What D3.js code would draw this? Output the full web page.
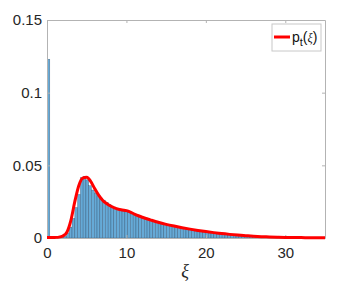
<!DOCTYPE html>
<html>
<head>
<meta charset="utf-8">
<script src="https://cdn.jsdelivr.net/npm/d3@7"></script>
<style>
  html, body { margin: 0; padding: 0; background: #fff; }
  svg { display: block; }
  .tick text { font-family: "Liberation Sans", Arial, sans-serif; font-size: 15px; fill: #262626; }
</style>
</head>
<body>
<div id="chart"></div>
<script>
// histogram: 100 bins of width 0.35 over [0, 35]
var BIN_WIDTH = 0.35;
var binValues = [
  0.123, 0, 0, 0, 0.0002, 0.0005, 0.0012, 0.0035, 0.0075, 0.0135,
  0.021, 0.030, 0.0415, 0.0425, 0.040, 0.036, 0.033, 0.031, 0.029, 0.0275,
  0.026, 0.0245, 0.023, 0.022, 0.0205, 0.0195, 0.019, 0.0185, 0.018, 0.0178,
  0.0172, 0.0165, 0.0158, 0.015, 0.0143, 0.0137, 0.013, 0.0124, 0.0118, 0.0112,
  0.0107, 0.0101, 0.0096, 0.0091, 0.0086, 0.0082, 0.0077, 0.0072, 0.0068, 0.0064,
  0.006, 0.0056, 0.0052, 0.0049, 0.0046, 0.0043, 0.004, 0.0037, 0.0034, 0.0032,
  0.003, 0.0028, 0.0026, 0.0024, 0.0022, 0.002, 0.0018, 0.0016, 0.0015, 0.0014,
  0.0012, 0.0011, 0.001, 0.0009, 0.0008, 0.0007, 0.0006, 0.0006, 0.0005, 0.0004,
  0.0004, 0.0003, 0.0003, 0.0003, 0.0002, 0.0002, 0.0002, 0.0002, 0.0001, 0.0001,
  0.0001, 0.0001, 0.0001, 0.0001, 0.0001, 0, 0, 0, 0, 0
];

// fitted density p_t(xi)
var curveX = [0, 0.5, 1, 1.5, 2, 2.5, 3, 3.5, 4, 4.5, 5, 5.5, 6, 6.5, 7, 7.5, 8, 8.5, 9, 9.5,
  10, 10.5, 11, 11.5, 12, 13, 14, 15, 16, 17, 18, 19, 20, 21, 22, 23, 24, 25, 26, 27,
  28, 29, 30, 31, 32, 33, 34, 35];
var curveY = [0.0003, 0.0003, 0.0004, 0.0006, 0.0014, 0.004, 0.012, 0.025, 0.036, 0.0412,
  0.0418, 0.039, 0.034, 0.0295, 0.026, 0.0237, 0.022, 0.0207, 0.0198, 0.0193,
  0.0188, 0.0178, 0.0165, 0.0153, 0.0143, 0.0125, 0.0108, 0.0094, 0.0082, 0.0071,
  0.0061, 0.0052, 0.0044, 0.0037, 0.0031, 0.0025, 0.002, 0.0016, 0.0012, 0.0009,
  0.0007, 0.0005, 0.0004, 0.0003, 0.0003, 0.0002, 0.0002, 0.0002];

var xTicks = [0, 10, 20, 30];
var yTicks = [0, 0.05, 0.1, 0.15];
var yTickLabels = ["0", "0.05", "0.1", "0.15"];

var W = 359, H = 283;
var MARGIN = {top: 20, right: 34, bottom: 45, left: 47};
var WIDTH = W - MARGIN.left - MARGIN.right,
    HEIGHT = H - MARGIN.top - MARGIN.bottom;
var AXIS_COLOR = "#b3b3b3";

var svg = d3.select("#chart").append("svg")
  .attr("width", W).attr("height", H);

var g = svg.append("g")
  .attr("transform", "translate(" + MARGIN.left + "," + MARGIN.top + ")");

var x = d3.scaleLinear().domain([0, 35]).range([0, WIDTH]);
var y = d3.scaleLinear().domain([0, 0.15]).range([HEIGHT, 0]);

var clip = svg.append("clipPath").attr("id", "plotClip")
  .append("rect").attr("width", WIDTH).attr("height", HEIGHT);

// bars
g.append("g").attr("clip-path", "url(#plotClip)")
  .selectAll("rect")
  .data(binValues)
  .enter().append("rect")
    .attr("x", function(d, i) { return x(i * BIN_WIDTH); })
    .attr("width", function(d, i) { return x((i + 1) * BIN_WIDTH) - x(i * BIN_WIDTH); })
    .attr("y", function(d) { return y(d); })
    .attr("height", function(d) { return HEIGHT - y(d); })
    .attr("fill", "#66aad7")
    .attr("stroke", "#1a3550")
    .attr("stroke-opacity", 0.55)
    .attr("stroke-width", 0.5);

// axes (matlab style box with inward ticks)
var xAxis = d3.axisBottom(x).tickValues(xTicks).tickSizeInner(-3).tickSizeOuter(0).tickPadding(9);
var yAxis = d3.axisLeft(y).tickValues(yTicks).tickSizeInner(-3).tickSizeOuter(0).tickPadding(5)
  .tickFormat(function(d, i) { return yTickLabels[i]; });
var xTop = d3.axisTop(x).tickValues(xTicks).tickSizeInner(-3).tickSizeOuter(0).tickFormat("");
var yRight = d3.axisRight(y).tickValues(yTicks).tickSizeInner(-3).tickSizeOuter(0).tickFormat("");

g.append("g").attr("class", "x axis").attr("transform", "translate(0," + HEIGHT + ")").call(xAxis);
g.append("g").attr("class", "y axis").call(yAxis);
g.append("g").attr("class", "x2 axis").call(xTop);
g.append("g").attr("class", "y2 axis").attr("transform", "translate(" + WIDTH + ",0)").call(yRight);

g.selectAll(".axis path, .axis line").attr("stroke", AXIS_COLOR);

// density line
var line = d3.line()
  .x(function(d, i) { return x(curveX[i]); })
  .y(function(d) { return y(d); })
  .curve(d3.curveMonotoneX);

g.append("path")
  .datum(curveY)
  .attr("d", line)
  .attr("fill", "none")
  .attr("stroke", "#ff0000")
  .attr("stroke-width", 3)
  .attr("stroke-linejoin", "round");

// x label
g.append("text")
  .attr("x", WIDTH / 2 - 1)
  .attr("y", HEIGHT + 39)
  .attr("text-anchor", "middle")
  .attr("font-family", "Liberation Serif, serif")
  .attr("font-style", "italic")
  .attr("font-size", 18)
  .attr("fill", "#262626")
  .text("ξ");

// legend
var legend = g.append("g").attr("class", "legend")
  .attr("transform", "translate(" + (WIDTH - 53) + ",4)");
legend.append("rect")
  .attr("width", 49).attr("height", 27)
  .attr("fill", "#fff").attr("stroke", "#c8c8c8").attr("stroke-width", 1);
legend.append("line")
  .attr("x1", 2).attr("x2", 18).attr("y1", 13).attr("y2", 13)
  .attr("stroke", "#ff0000").attr("stroke-width", 3);
var lt = legend.append("text")
  .attr("x", 20).attr("y", 18)
  .attr("font-family", "Liberation Sans, Arial, sans-serif")
  .attr("font-size", 14)
  .attr("fill", "#111");
lt.append("tspan").text("p");
lt.append("tspan").attr("font-size", 11).attr("dy", 4).text("t");
lt.append("tspan").attr("dy", -4).text("(");
lt.append("tspan").attr("font-style", "italic").attr("font-size", 12).attr("font-family", "Liberation Serif, serif").text("ξ");
lt.append("tspan").text(")");
</script>
</body>
</html>
